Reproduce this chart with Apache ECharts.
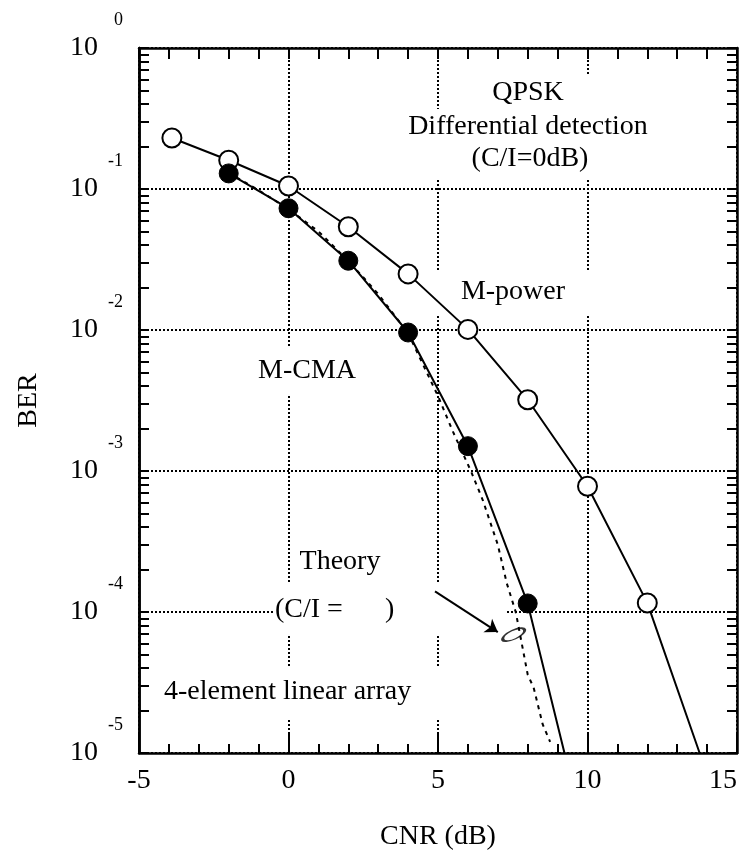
<!DOCTYPE html>
<html>
<head>
<meta charset="utf-8">
<script src="https://cdn.jsdelivr.net/npm/echarts@6/dist/echarts.min.js"></script>
<style>
  html, body { margin: 0; padding: 0; background: #fff; }
  #chart { width: 744px; height: 861px; }
</style>
</head>
<body>
<div id="chart"></div>
<script>
const FONT = '"Liberation Serif", "Times New Roman", serif';

// M-power (open circles); last point is where the line leaves the frame
const mpowerX = [-3.9, -2, 0, 2, 4, 6, 8, 10, 12, 13.75];
const mpowerY = [0.23, 0.16, 0.105, 0.054, 0.025, 0.0101, 0.0032, 7.8e-4, 1.16e-4, 1e-5];

// M-CMA (filled circles)
const mcmaX = [-2, 0, 2, 4, 6, 8, 9.23];
const mcmaY = [0.129, 0.073, 0.031, 0.0096, 0.0015, 1.15e-4, 1e-5];

// Theory (dashed)
const theoryX = [-2, -1, 0, 1, 2, 3, 4, 5, 5.5, 6.1, 6.5, 7, 7.3, 7.6, 7.8, 8, 8.2, 8.5, 8.75];
const theoryY = [0.13, 0.098, 0.072, 0.05, 0.031, 0.018, 0.0095, 0.0034, 0.0019, 0.001, 6.2e-4, 3e-4,
                 1.6e-4, 1e-4, 6e-5, 3.6e-5, 2.9e-5, 1.6e-5, 1.2e-5];

// arrow pointing at the theory curve, and the small ellipse
const arrowX = [4.9, 7.0];
const arrowY = [1.4e-4, 7.2e-5];
const ellipseX = [7.53];
const ellipseY = [6.9e-5];

const xTickLabels = [-5, 0, 5, 10, 15];
const yDecades = [-5, -4, -3, -2, -1, 0];
const yMinor = [1, 2, 3, 4, 5, 6, 7, 8, 9];

const yTicks = [];
yDecades.forEach(e => {
  if (e === 0) { yTicks.push(1); return; }
  yMinor.forEach(k => yTicks.push(k * Math.pow(10, e)));
});

const zip = (xs, ys) => xs.map((x, i) => [x, ys[i]]);

const notes = [
  { text: 'QPSK', x: 528, y: 93, pad: [6, 34, 4, 34] },
  { text: 'Differential detection', x: 528, y: 127, pad: [4, 8] },
  { text: '(C/I=0dB)', x: 530, y: 159, pad: [4, 60, 8, 60] },
  { text: 'M-power', x: 513, y: 292, pad: [8, 28] },
  { text: 'M-CMA', x: 307, y: 371, pad: [10, 8] },
  { text: 'Theory', x: 358, y: 562, pad: [8, 44, 6, 8] },
  { text: '(C/I =      )', x: 275, y: 610, align: 'left', pad: [10, 112, 14, 0] },
  { text: '4-element linear array', x: 160, y: 692, align: 'left', pad: [12, 36, 12, 4] }
];

const blackLine = { color: '#000', width: 2.5 };
const tickLine = { color: '#000', width: 2 };
const gridDots = { color: '#000', width: 2, type: [2, 2] };

// frame-only log axis: ticks at 1..9 of every decade, no labels, no grid
function logTickAxis(position) {
  return {
    type: 'log', logBase: 10, min: 1e-5, max: 1, position: position,
    axisLine: { show: true, onZero: false, lineStyle: blackLine },
    axisTick: { show: true, inside: true, length: 10, customValues: yTicks, lineStyle: tickLine },
    splitLine: { show: false },
    axisLabel: { show: false }
  };
}

const chart = echarts.init(document.getElementById('chart'));
chart.setOption({
  animation: false,
  backgroundColor: '#fff',
  grid: { left: 139, right: 7, top: 48, bottom: 108, containLabel: false, outerBoundsMode: 'none' },
  xAxis: [{
    type: 'value', min: -5, max: 15, interval: 5, position: 'bottom',
    name: 'CNR (dB)', nameLocation: 'middle', nameGap: 70,
    nameTextStyle: { fontFamily: FONT, fontSize: 28, color: '#000' },
    axisLine: { show: true, onZero: false, lineStyle: blackLine },
    axisTick: { show: true, inside: true, length: 20, lineStyle: tickLine },
    minorTick: { show: true, splitNumber: 5, length: 9, lineStyle: tickLine },
    splitLine: { show: true, lineStyle: gridDots },
    axisLabel: {
      margin: 14, fontFamily: FONT, fontSize: 28, color: '#000',
      customValues: xTickLabels, alignMaxLabel: 'right'
    }
  }, {
    type: 'value', min: -5, max: 15, interval: 1, position: 'top',
    axisLine: { show: true, onZero: false, lineStyle: blackLine },
    axisTick: { show: true, inside: true, length: 11, lineStyle: tickLine },
    splitLine: { show: false },
    axisLabel: { show: false }
  }],
  yAxis: [{
    type: 'log', logBase: 10, min: 1e-5, max: 1, position: 'left',
    name: 'BER', nameLocation: 'middle', nameGap: 96, nameRotate: 90,
    nameTextStyle: { fontFamily: FONT, fontSize: 28, color: '#000' },
    axisLine: { show: true, onZero: false, lineStyle: blackLine },
    axisTick: { show: false },
    splitLine: { show: true, lineStyle: gridDots },
    axisLabel: {
      margin: 16, color: '#000',
      formatter: v => '{s|' + Math.round(Math.log10(v)) + '}\n{b|10}\n{e| }',
      rich: {
        s: { fontFamily: FONT, fontSize: 18, lineHeight: 26, color: '#000' },
        b: { fontFamily: FONT, fontSize: 28, lineHeight: 30, color: '#000', padding: [0, 25, 0, 0] },
        e: { fontSize: 10, lineHeight: 26 }
      }
    }
  }, logTickAxis('left'), logTickAxis('right')],
  graphic: notes.map(n => ({
    type: 'text', x: n.x, y: n.y, z: 1, silent: true,
    style: {
      text: n.text, font: '28px ' + FONT, fill: '#000',
      align: n.align || 'center', verticalAlign: 'middle',
      backgroundColor: '#fff', padding: n.pad
    }
  })),
  series: [{
    name: 'Theory', type: 'line', z: 2,
    data: zip(theoryX, theoryY), showSymbol: false, symbol: 'none',
    lineStyle: { color: '#000', width: 2, type: [4, 5] }
  }, {
    name: 'M-power', type: 'line', z: 3,
    data: zip(mpowerX, mpowerY), symbol: 'circle',
    symbolSize: (v, p) => p.dataIndex === mpowerX.length - 1 ? 0 : 19,
    lineStyle: { color: '#000', width: 2 },
    itemStyle: { color: '#fff', borderColor: '#000', borderWidth: 2 }
  }, {
    name: 'M-CMA', type: 'line', z: 3,
    data: zip(mcmaX, mcmaY), symbol: 'circle',
    symbolSize: (v, p) => p.dataIndex === mcmaX.length - 1 ? 0 : 19,
    lineStyle: { color: '#000', width: 2 },
    itemStyle: { color: '#000', borderColor: '#000', borderWidth: 1 }
  }, {
    type: 'line', data: [], z: 3,
    markLine: {
      silent: true, symbol: ['none', 'arrow'], symbolSize: 12,
      label: { show: false },
      lineStyle: { color: '#000', width: 2, type: 'solid' },
      data: [[{ coord: [arrowX[0], arrowY[0]] }, { coord: [arrowX[1], arrowY[1]] }]]
    }
  }, {
    type: 'scatter', z: 3,
    data: zip(ellipseX, ellipseY),
    symbol: 'circle', symbolSize: [24, 9], symbolRotate: 25,
    itemStyle: { color: 'rgba(0,0,0,0)', borderColor: '#000', borderWidth: 2 }
  }]
});
</script>
</body>
</html>
